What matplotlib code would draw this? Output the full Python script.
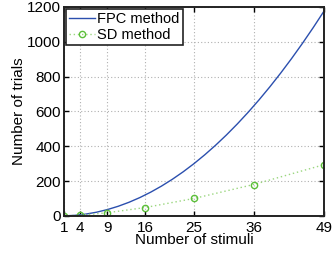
import numpy as np
import matplotlib.pyplot as plt

plt.rcParams['font.family'] = ['Liberation Sans', 'DejaVu Sans']

# stimuli counts (x ticks)
stimuli = [1, 4, 9, 16, 25, 36, 49]

# FPC method: number of trials
fpc_x = [1, 3, 5, 7, 9, 11, 13, 15, 17, 19, 21, 23, 25, 27, 29, 31, 33, 35, 37, 39, 41, 43, 45, 47, 49]
fpc_y = [0, 3, 10, 21, 36, 55, 78, 105, 136, 171, 210, 253, 300, 351, 406, 465, 528, 595, 666, 741, 820, 903, 990, 1081, 1176]

# SD method: number of trials at each stimuli count
sd_y = [0, 4, 18, 48, 100, 180, 294]

fig = plt.figure(figsize=(3.33, 2.57), dpi=100)
ax = fig.add_axes([0.192, 0.16, 0.781, 0.813])

ax.plot(fpc_x, fpc_y, color='#2b4fae', lw=1.0, label='FPC method')
ax.plot(stimuli, sd_y, color='#9ad67e', lw=1.0, ls=(0, (1, 2)))
ax.plot(stimuli, sd_y, ls='none', marker='o', ms=4.5, mfc='none', mec='#5cbf3a', mew=1.0)
ax.plot([], [], color='#9ad67e', lw=1.0, ls=(0, (1, 2)), marker='o', ms=4.5,
        mfc='none', mec='#5cbf3a', mew=1.0, label='SD method')

ax.set_xlim(1, 49)
ax.set_ylim(0, 1200)
ax.set_xticks(stimuli)
ax.set_yticks(range(0, 1201, 200))
ax.grid(True, color='#b0b0b0', ls=(0, (1, 2)), lw=0.8)
ax.tick_params(direction='in', labelsize=11, top=True, right=True, length=3.5, width=1)
ax.tick_params(axis='x', pad=3.5)
ax.tick_params(axis='y', pad=2)
for s in ax.spines.values():
    s.set_linewidth(1.4)
    s.set_color('#222222')

ax.set_xlabel('Number of stimuli', fontsize=11, labelpad=-1)
ax.set_ylabel('Number of trials', fontsize=11, labelpad=1)

leg = ax.legend(loc='upper left', fontsize=10.5, fancybox=False, framealpha=1,
                edgecolor='#222222', borderpad=0.2, handlelength=1.8,
                handletextpad=0.15, labelspacing=0.15, borderaxespad=0.15)
leg.get_frame().set_linewidth(1.2)

fig.savefig('out.png', dpi=100)
